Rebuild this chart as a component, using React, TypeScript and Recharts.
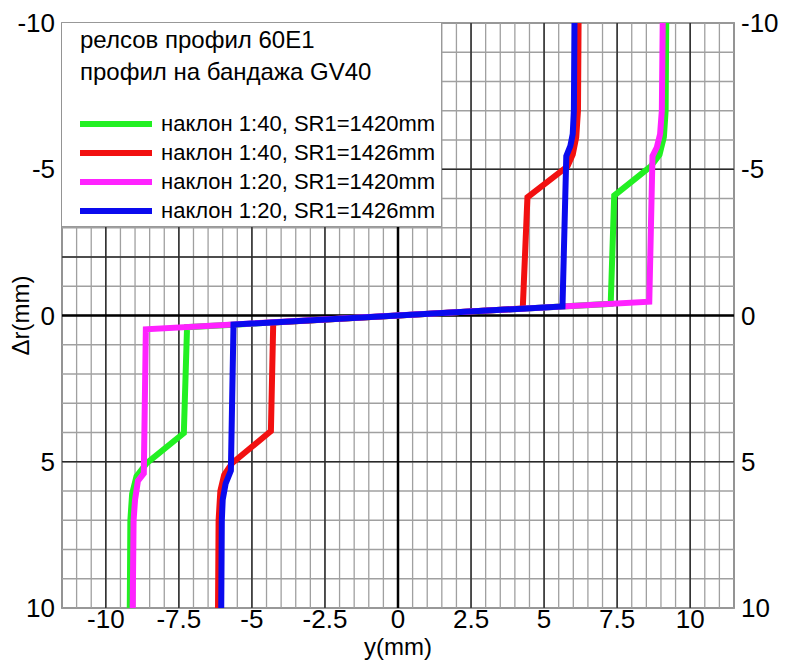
import React from "react";
import {
  LineChart,
  Line,
  XAxis,
  YAxis,
  ReferenceLine,
  ReferenceArea,
  Legend,
} from "recharts";

// y (mm) vs Δr (mm), read top to bottom
const slope40sr1420 = [
  { y: 9.18, dr: -10 },
  { y: 9.16, dr: -7 },
  { y: 9.1, dr: -6.1 },
  { y: 8.95, dr: -5.5 },
  { y: 8.65, dr: -5.1 },
  { y: 7.4, dr: -4.1 },
  { y: 7.28, dr: -0.4 },
  { y: -7.22, dr: 0.4 },
  { y: -7.33, dr: 4.02 },
  { y: -8.6, dr: 5.05 },
  { y: -8.95, dr: 5.5 },
  { y: -9.1, dr: 6.1 },
  { y: -9.16, dr: 7 },
  { y: -9.18, dr: 10 },
];

const slope40sr1426 = [
  { y: 6.18, dr: -10 },
  { y: 6.16, dr: -7 },
  { y: 6.1, dr: -6.1 },
  { y: 5.98, dr: -5.5 },
  { y: 5.8, dr: -5.1 },
  { y: 4.43, dr: -4.04 },
  { y: 4.27, dr: -0.24 },
  { y: -4.27, dr: 0.24 },
  { y: -4.35, dr: 3.95 },
  { y: -5.68, dr: 5.05 },
  { y: -5.95, dr: 5.45 },
  { y: -6.08, dr: 6 },
  { y: -6.14, dr: 7 },
  { y: -6.16, dr: 10 },
];

const slope20sr1420 = [
  { y: 9.06, dr: -10 },
  { y: 9.03, dr: -7 },
  { y: 8.97, dr: -6.2 },
  { y: 8.86, dr: -5.75 },
  { y: 8.71, dr: -5.45 },
  { y: 8.6, dr: -0.47 },
  { y: -8.63, dr: 0.47 },
  { y: -8.7, dr: 5.4 },
  { y: -8.9, dr: 5.65 },
  { y: -9.0, dr: 6.3 },
  { y: -9.05, dr: 7 },
  { y: -9.08, dr: 10 },
];

const slope20sr1426 = [
  { y: 6.04, dr: -10 },
  { y: 6.02, dr: -7 },
  { y: 5.98, dr: -6.2 },
  { y: 5.9, dr: -5.8 },
  { y: 5.76, dr: -5.45 },
  { y: 5.63, dr: -0.31 },
  { y: -5.63, dr: 0.31 },
  { y: -5.72, dr: 5.3 },
  { y: -5.9, dr: 5.75 },
  { y: -6.0, dr: 6.3 },
  { y: -6.03, dr: 7 },
  { y: -6.05, dr: 10 },
];

const xTicks = [-10, -7.5, -5, -2.5, 0, 2.5, 5, 7.5, 10];
const yTicks = [-10, -5, 0, 5, 10];
const titleLines = ["релсов профил 60E1", "профил на бандажа GV40"];

const FONT = "'Liberation Sans', Arial, sans-serif";

const minorX: number[] = [];
for (let v = -11.5; v <= 11.5001; v += 0.5) minorX.push(Math.round(v * 10) / 10);
const minorY: number[] = [];
for (let v = -10; v <= 10; v += 1) minorY.push(v);
const majorX = [-10, -7.5, -5, -2.5, 2.5, 5, 7.5, 10];
const majorY = [-5, 5];

function LegendBox(props: any) {
  const payload = props.payload || [];
  return (
    <div
      style={{
        boxSizing: "border-box",
        width: 380,
        height: 204,
        background: "#fff",
        borderRight: "1px solid #999",
        borderBottom: "1px solid #999",
        fontFamily: FONT,
        color: "#000",
        paddingLeft: 18,
        paddingTop: 1,
      }}
    >
      {titleLines.map((t) => (
        <div key={t} style={{ fontSize: 24, lineHeight: "32px", whiteSpace: "nowrap" }}>
          {t}
        </div>
      ))}
      <div style={{ height: 21 }} />
      {payload.map((p: any) => (
        <div
          key={p.value}
          style={{ display: "flex", alignItems: "center", height: 29, whiteSpace: "nowrap" }}
        >
          <span
            style={{ display: "inline-block", width: 72, height: 6, background: p.color, marginRight: 9 }}
          />
          <span style={{ fontSize: 22 }}>{p.value}</span>
        </div>
      ))}
    </div>
  );
}

export default function App() {
  const tickStyle = { fontSize: 26, fill: "#000", fontFamily: FONT };
  const titleStyle = { fontSize: 24, fill: "#000", fontFamily: FONT, textAnchor: "middle" as const };
  return (
    <div style={{ position: "absolute", left: 0, top: 0, background: "#fff" }}>
      <LineChart width={787} height={660} margin={{ top: 23, right: 0, bottom: 0, left: 0 }}>
        <XAxis
          type="number"
          dataKey="y"
          domain={[-11.5, 11.5]}
          ticks={xTicks}
          allowDataOverflow
          axisLine={false}
          tickLine={false}
          tickSize={0}
          tickMargin={2}
          height={52}
          tick={tickStyle}
          label={{ value: "y(mm)", position: "insideBottom", offset: 5, style: titleStyle }}
        />
        <YAxis
          yAxisId="l"
          type="number"
          dataKey="dr"
          domain={[-10, 10]}
          ticks={yTicks}
          reversed
          allowDataOverflow
          axisLine={false}
          tickLine={false}
          tickSize={0}
          tickMargin={7}
          width={62}
          tick={tickStyle}
          label={{ value: "Δr(mm)", angle: -90, position: "insideLeft", offset: 20, style: titleStyle }}
        />
        <YAxis
          yAxisId="r"
          orientation="right"
          type="number"
          domain={[-10, 10]}
          ticks={yTicks}
          reversed
          allowDataOverflow
          axisLine={false}
          tickLine={false}
          tickSize={0}
          tickMargin={7}
          width={53}
          tick={{ ...tickStyle, textAnchor: "start" }}
        />
        {minorX.map((v) => (
          <ReferenceLine key={"mx" + v} yAxisId="l" x={v} stroke="#a0a0a0" strokeWidth={1.3} />
        ))}
        {minorY.map((v) => (
          <ReferenceLine key={"my" + v} yAxisId="l" y={v} stroke="#a0a0a0" strokeWidth={1.3} />
        ))}
        {majorX.map((v) => (
          <ReferenceLine key={"Mx" + v} yAxisId="l" x={v} stroke="#2a2a2a" strokeWidth={1.5} />
        ))}
        {majorY.map((v) => (
          <ReferenceLine key={"My" + v} yAxisId="l" y={v} stroke="#2a2a2a" strokeWidth={1.5} />
        ))}
        <ReferenceLine
          yAxisId="l"
          segment={[{ x: -11.5, y: -2 }, { x: 2.5, y: -2 }]}
          stroke="#2a2a2a"
          strokeWidth={1.5}
        />
        <ReferenceLine yAxisId="l" x={0} stroke="#000" strokeWidth={2.5} />
        <ReferenceLine yAxisId="l" y={0} stroke="#000" strokeWidth={2.5} />
        <ReferenceArea
          yAxisId="l"
          x1={-11.5}
          x2={11.5}
          y1={-10}
          y2={10}
          fill="none"
          stroke="#555"
          strokeWidth={1.5}
        />
        <Line yAxisId="l" data={slope40sr1420} dataKey="dr" name="наклон 1:40, SR1=1420mm" stroke="#22f022" strokeWidth={6} dot={false} isAnimationActive={false} />
        <Line yAxisId="l" data={slope40sr1426} dataKey="dr" name="наклон 1:40, SR1=1426mm" stroke="#f21010" strokeWidth={6} dot={false} isAnimationActive={false} />
        <Line yAxisId="l" data={slope20sr1420} dataKey="dr" name="наклон 1:20, SR1=1420mm" stroke="#ff22ff" strokeWidth={6} dot={false} isAnimationActive={false} />
        <Line yAxisId="l" data={slope20sr1426} dataKey="dr" name="наклон 1:20, SR1=1426mm" stroke="#0a0aee" strokeWidth={6} dot={false} isAnimationActive={false} />
        <Legend
          layout="horizontal"
          align="center"
          verticalAlign="middle"
          itemSorter={null}
          content={LegendBox}
          wrapperStyle={{ left: 62, top: 23, width: 380, height: 204 }}
        />
      </LineChart>
    </div>
  );
}
